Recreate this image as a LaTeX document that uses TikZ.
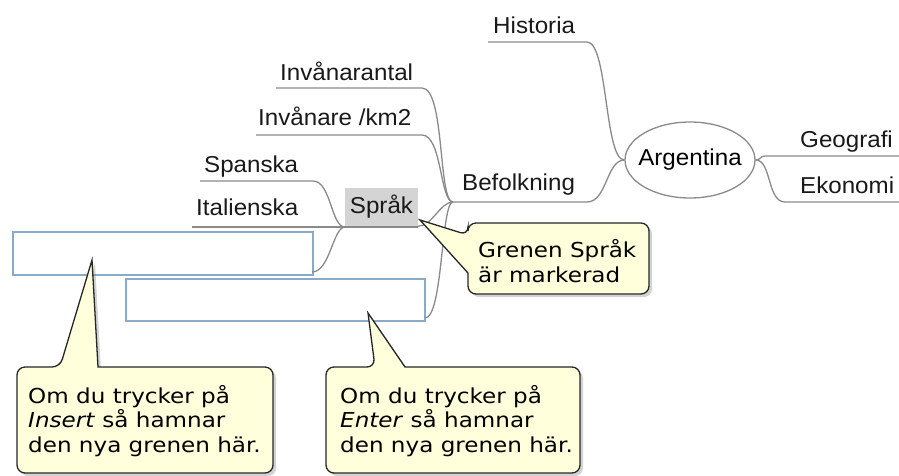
\documentclass[tikz,border=0pt]{standalone}
\usepackage{fontspec}
\setmainfont{Liberation Sans}
\newfontfamily\mmfont[FakeStretch=1.05]{Liberation Sans}
\newfontfamily\cofont[FakeStretch=1.12]{DejaVu Sans}
\usetikzlibrary{shapes.geometric,shadows}
\definecolor{conngray}{HTML}{8A8A8A}
\definecolor{boxblue}{HTML}{8AAACB}
\definecolor{noteyellow}{HTML}{FFFFDC}
\definecolor{selgray}{HTML}{D4D4D4}
\begin{document}
\begin{tikzpicture}[x=1pt,y=-1pt,
  conn/.style={draw=conngray,line width=1.3pt},
  lbl/.style={inner sep=0pt,font=\mmfont\fontsize{23}{27}\selectfont,text=black!90},
  newbox/.style={draw=boxblue,line width=1.3pt,inner sep=0pt},
  callout/.style={fill=noteyellow,draw=black!85,line width=1.3pt,drop shadow={opacity=0.35,shadow xshift=3pt,shadow yshift=-3pt}},
  note/.style={inner sep=0pt,anchor=base west,align=left,font=\cofont\fontsize{20.6}{24.5}\selectfont}]
\useasboundingbox (0,0) rectangle (899,475);

% central node
\node[ellipse,draw=conngray,line width=1.3pt,minimum width=130pt,minimum height=76pt,inner sep=0pt,font=\mmfont\fontsize{23}{27}\selectfont] (arg) at (690,160) {\makebox[0pt]{Argentina}};

% labels
\node[lbl,anchor=base west] (his) at (493,33) {Historia};
\node[lbl,anchor=base west] (bef) at (462,190) {Befolkning};
\node[lbl,anchor=base west] (geo) at (800,147) {Geografi};
\node[lbl,anchor=base west] (eko) at (800,193) {Ekonomi};
\node[lbl,anchor=base west] (inv) at (280,80) {Invånarantal};
\node[lbl,anchor=base west] (km) at (258,125) {Invånare /km2};
\node[lbl,anchor=base west] (spa) at (204,172) {Spanska};
\node[lbl,anchor=base west] (ita) at (196,215) {Italienska};

% empty new-branch boxes
\node[newbox,minimum width=300pt,minimum height=43pt] (ins) at (163,253.5) {};
\node[newbox,minimum width=299pt,minimum height=42pt] (ent) at (275.5,300) {};

% coordinates
\coordinate (hisA) at (488,42);  \coordinate (hisB) at (587,42);
\coordinate (befA) at (453,202); \coordinate (befB) at (587,202);
\coordinate (geoA) at (765,156); \coordinate (geoB) at (899,156);
\coordinate (ekoA) at (785,202); \coordinate (ekoB) at (899,202);
\coordinate (invA) at (276,88);  \coordinate (invB) at (422,88);
\coordinate (kmA) at (256,135);  \coordinate (kmB) at (422,135);
\coordinate (spaA) at (200,181); \coordinate (spaB) at (313,181);
\coordinate (itaA) at (192,227);
\coordinate (sprJ) at (345,227);
\coordinate (insC) at (312,272);
\coordinate (entC) at (425,318);

% connectors
\draw[conn] (hisA) -- (hisB) .. controls +(21,0) and +(-20,0) .. (arg.west);
\draw[conn] (befA) -- (befB) .. controls +(20,0) and +(-18,0) .. (arg.west);
\draw[conn] (arg.east) .. controls +(5,0) and +(-5,0) .. (geoA) -- (geoB);
\draw[conn] (arg.east) .. controls +(16,0) and +(-18,0) .. (ekoA) -- (ekoB);
\draw[conn] (invA) -- (invB) .. controls +(23,0) and +(-15,0) .. (befA);
\draw[conn] (kmA) -- (kmB) .. controls +(20,0) and +(-13,0) .. (befA);
\draw[conn] (befA) .. controls +(-12,0) and +(18,0) .. (entC);
\draw[conn] (spaA) -- (spaB) .. controls +(18,0) and +(-14,0) .. (sprJ);
\draw[conn] (itaA) -- (sprJ) -- (418,227);
\draw[conn] (sprJ) .. controls +(-12,0) and +(18,0) .. (insC);

% selected node
\node[fill=selgray,inner sep=0pt,minimum width=73pt,minimum height=38pt,font=\mmfont\fontsize{23}{27}\selectfont,text=black!90] (spr) at (381.5,207) {Språk};
\draw[conn] (spr.south east) .. controls +(14,0) and +(-13,0) .. (befA);

% callouts
\coordinate (tipA) at (420,220);
\coordinate (tipB) at (92,260);
\coordinate (tipC) at (368,313);
\draw[callout] (468,273) [rounded corners=8pt] -- (468,294) -- (649,294) -- (649,223) -- (468,223) -- (468,235) [sharp corners] -- (tipA) -- cycle;
\node[note] (n1) at (478,282) {Grenen Språk\\är markerad};

\draw[callout] (98,367) [rounded corners=8pt] -- (273,367) -- (273,473) -- (17,473) -- (17,367) -- (60,367) [sharp corners] -- (tipB) -- cycle;
\node[note] (n2) at (28,452) {Om du trycker på\\\textit{Insert} så hamnar\\den nya grenen här.};

\draw[callout] (405,367) [rounded corners=8pt] -- (580,367) -- (580,473) -- (326,473) -- (326,367) -- (375,367) [sharp corners] -- (tipC) -- cycle;
\node[note] (n3) at (340,452) {Om du trycker på\\\textit{Enter} så hamnar\\den nya grenen här.};
\end{tikzpicture}
\end{document}
